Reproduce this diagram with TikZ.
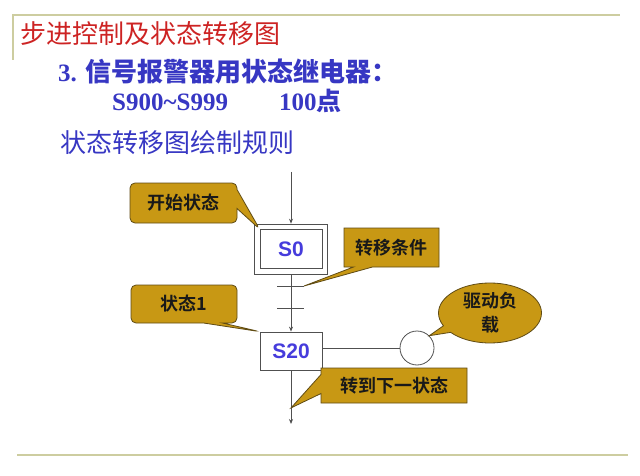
\documentclass[tikz,border=0pt]{standalone}
\usepackage{fontspec}
\setmainfont{Liberation Serif}
\newfontfamily\cjk{Noto Sans CJK SC}
\newfontfamily\cjkbf{Noto Sans CJK SC Bold}
\newfontfamily\arialbf{Liberation Sans Bold}
\usetikzlibrary{shapes.callouts,fit,arrows.meta,calc}
\definecolor{frameline}{RGB}{205,205,160}
\definecolor{titlered}{RGB}{205,35,35}
\definecolor{textblue}{RGB}{55,55,195}
\definecolor{stepblue}{RGB}{70,60,220}
\definecolor{notegold}{RGB}{200,152,20}
\definecolor{noteedge}{RGB}{95,75,20}
\definecolor{linegray}{RGB}{80,80,80}
\begin{document}
\begin{tikzpicture}[x=1pt,y=-1pt,
  wire/.style={draw=linegray,line width=.8pt},
  arr/.style={wire,-{Stealth[length=5pt,width=4pt]}},
  stepbox/.style={wire,fill=white,minimum width=62pt,minimum height=39pt,inner sep=0pt,font=\arialbf\fontsize{21}{21}\selectfont,text=stepblue},
  note/.style={draw=noteedge,line width=.8pt,fill=notegold,inner sep=0pt,callout pointer width=19pt,font=\cjkbf\fontsize{18}{24}\selectfont,text=black!90}]
\useasboundingbox (0,0) rectangle (640,476);
% frame of the slide
\draw[frameline,line width=1.5pt] (13,60) -- (13,15) -- (620,15);
\draw[frameline,line width=1.5pt] (17,455) -- (628,455);
% texts
\node[anchor=west,inner sep=0pt,text=titlered,font=\cjk\fontsize{26}{26}\selectfont] (title) at (20,34) {步进控制及状态转移图};
\node[anchor=west,inner sep=0pt,text=textblue,font=\bfseries\fontsize{25}{25}\selectfont] (head) at (58,72) {3. {\cjkbf\fontsize{26}{26}\selectfont 信号报警器用状态继电器：}};
\node[anchor=west,inner sep=0pt,text=textblue,font=\bfseries\fontsize{25}{25}\selectfont] (range) at (112,101) {S900\textasciitilde S999\hspace{51pt}100{\cjkbf 点}};
\node[anchor=west,inner sep=0pt,text=textblue,font=\cjk\fontsize{26}{26}\selectfont] (rule) at (60,143) {状态转移图绘制规则};
% steps
\node[stepbox] (s0) at (291,249) {S0};
\node[wire,fit=(s0),inner sep=5pt] (s0frame) {};
\node[stepbox,minimum height=38pt] (s20) at (291,351) {S20};
\node[wire,circle,minimum size=34pt,inner sep=0pt] (load) at (417,348) {};
\coordinate (top) at (291,172);
\coordinate (bottom) at (291,424);
\coordinate (t1l) at (277,286); \coordinate (t1r) at (304,286);
\coordinate (t2l) at (277,308); \coordinate (t2r) at (304,308);
\draw[arr] (top) -- (s0frame.north);
\draw[arr] (s0frame.south) -- (s20.north);
\draw[wire] (t1l) -- (t1r);
\draw[wire] (t2l) -- (t2r);
\draw[arr] (s20.south) -- (bottom);
\draw[wire] (s20.east |- load) -- (load.west);
\coordinate (next) at ($(s20.south)!.7!(bottom)$);
% callouts
\node[note,rectangle callout,rounded corners=5pt,minimum width=107pt,minimum height=40pt,callout absolute pointer={(s0.north west)}] (cstart) at (183.5,203) {开始状态};
\node[note,rectangle callout,minimum width=95pt,minimum height=39pt,callout absolute pointer={(t1r)}] (ccond) at (391.5,247.5) {转移条件};
\node[note,rectangle callout,rounded corners=5pt,minimum width=106pt,minimum height=38pt,callout absolute pointer={(s20.north west)}] (cstate) at (184,304) {状态1};
\node[note,ellipse callout,minimum width=103pt,minimum height=60pt,align=center,callout absolute pointer={(load.north east)}] (cload) at (490,313) {驱动负\\载};
\node[note,rectangle callout,minimum width=146pt,minimum height=35pt,callout absolute pointer={(next)}] (cnext) at (394,385.5) {转到下一状态};
\end{tikzpicture}
\end{document}
